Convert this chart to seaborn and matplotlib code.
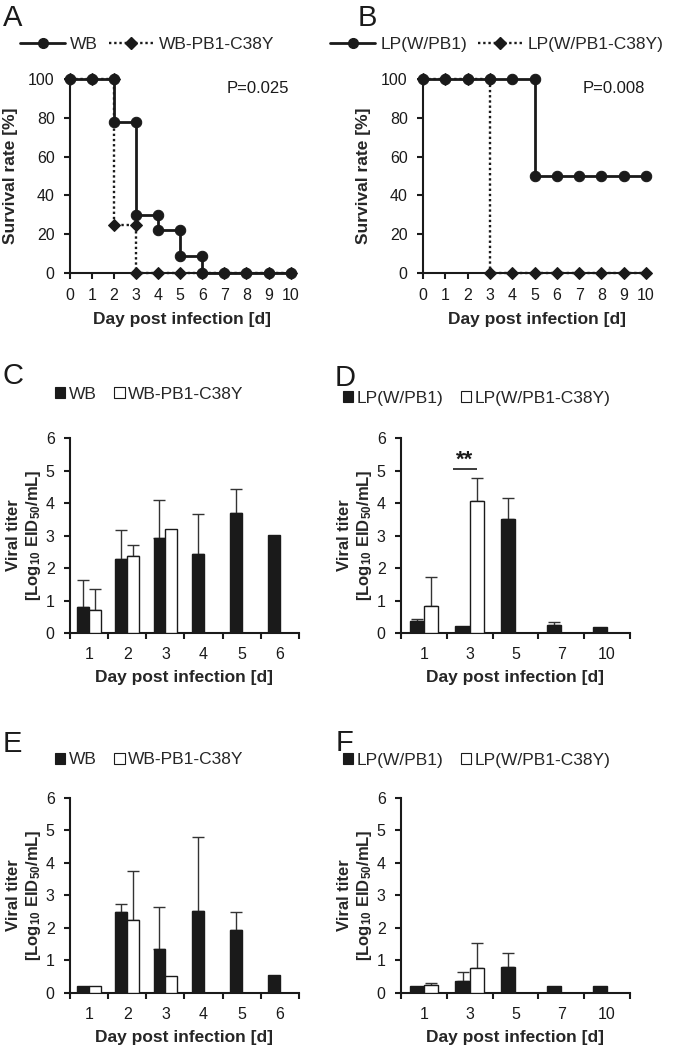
import numpy as np
import pandas as pd
import matplotlib
matplotlib.use('Agg')
import matplotlib.pyplot as plt
import seaborn as sns
from matplotlib.lines import Line2D
from matplotlib.patches import Patch

# ---------------- data ----------------
surv_days = list(range(11))
a_wb = [100, 100, 78, 30, 22, 9, 0, 0, 0, 0, 0]
a_mut = [100, 100, 25, 0, 0, 0, 0, 0, 0, 0, 0]
b_wb = [100, 100, 100, 100, 100, 50, 50, 50, 50, 50, 50]
b_mut = [100, 100, 100, 0, 0, 0, 0, 0, 0, 0, 0]

wb_days = ['1', '2', '3', '4', '5', '6']
lp_days = ['1', '3', '5', '7', '10']

c_wb = [0.79, 2.28, 2.93, 2.44, 3.70, 3.02]
c_wb_sd = [0.83, 0.88, 1.16, 1.22, 0.73, 0]
c_mut = [0.71, 2.36, 3.20, np.nan, np.nan, np.nan]
c_mut_sd = [0.64, 0.36, 0, 0, 0, 0]

d_wb = [0.37, 0.22, 3.52, 0.26, 0.19]
d_wb_sd = [0.05, 0, 0.63, 0.07, 0]
d_mut = [0.83, 4.05, np.nan, np.nan, np.nan]
d_mut_sd = [0.88, 0.73, 0, 0, 0]

e_wb = [0.2, 2.48, 1.34, 2.52, 1.93, 0.55]
e_wb_sd = [0, 0.27, 1.32, 2.29, 0.55, 0]
e_mut = [0.2, 2.24, 0.53, np.nan, np.nan, np.nan]
e_mut_sd = [0, 1.52, 0, 0, 0, 0]

f_wb = [0.2, 0.38, 0.8, 0.2, 0.2]
f_wb_sd = [0, 0.27, 0.43, 0, 0]
f_mut = [0.25, 0.76, np.nan, np.nan, np.nan]
f_mut_sd = [0.05, 0.77, 0, 0, 0]

# ---------------- style ----------------
sns.set_style('ticks')
plt.rcParams['font.family'] = ['Liberation Sans', 'DejaVu Sans']
plt.rcParams['mathtext.fontset'] = 'custom'
plt.rcParams['mathtext.rm'] = 'Liberation Sans:bold'
plt.rcParams['mathtext.it'] = 'Liberation Sans:bold'
plt.rcParams['mathtext.default'] = 'rm'

INK = '#1a1a1a'
fig = plt.figure(figsize=(6.78, 10.55), dpi=100)


def step_points(days, vals):
    xs, ys = [], []
    for i, (d, v) in enumerate(zip(days, vals)):
        if i > 0 and v != vals[i - 1]:
            xs.append(d)
            ys.append(vals[i - 1])
        xs.append(d)
        ys.append(v)
    return xs, ys


def style_axes(ax):
    for s in ['top', 'right']:
        ax.spines[s].set_visible(False)
    for s in ['left', 'bottom']:
        ax.spines[s].set_linewidth(1.5)
        ax.spines[s].set_color(INK)
    ax.tick_params(axis='both', which='major', direction='out', length=4,
                   width=1.5, color=INK, labelsize=11.5, labelcolor=INK)


def survival_panel(rect, wb, mut, ptext, names):
    ax = fig.add_axes(rect)
    mx, my = step_points(surv_days, mut)
    wx, wy = step_points(surv_days, wb)
    sns.lineplot(x=mx, y=my, sort=False, estimator=None, ax=ax, color=INK,
                 linestyle=(0, (1, 1.2)), linewidth=1.7, marker='D', markersize=6.5,
                 markeredgecolor=INK, clip_on=False, zorder=3)
    sns.lineplot(x=wx, y=wy, sort=False, estimator=None, ax=ax, color=INK,
                 linewidth=2.0, marker='o', markersize=7.5,
                 markeredgecolor=INK, clip_on=False, zorder=4)
    ax.set_xlim(0, 10.2)
    ax.set_ylim(0, 100)
    ax.set_xticks(surv_days)
    ax.set_yticks([0, 20, 40, 60, 80, 100])
    style_axes(ax)
    ax.tick_params(axis='x', pad=7)
    ax.tick_params(axis='y', pad=7)
    ax.set_xlabel('Day post infection [d]', fontsize=12.5, fontweight='bold', labelpad=6)
    ax.set_ylabel('Survival rate [%]', fontsize=12.5, fontweight='bold', labelpad=7)
    ax.text(9.95, 95, ptext, ha='right', va='center', fontsize=12, color=INK)
    handles = [Line2D([], [], color=INK, lw=2.0, marker='o', markersize=7),
               Line2D([], [], color=INK, lw=1.7, linestyle=(0, (1, 1.2)),
                      marker='D', markersize=6)]
    return ax, handles


def bar_panel(rect, days, wb, wb_sd, mut, mut_sd, names):
    ax = fig.add_axes(rect)
    df = pd.DataFrame({
        'day': days + days,
        'strain': [names[0]] * len(days) + [names[1]] * len(days),
        'titer': wb + mut,
        'sd': wb_sd + mut_sd,
    })
    sns.barplot(data=df, x='day', y='titer', hue='strain', order=days,
                hue_order=names, palette={names[0]: INK, names[1]: 'white'},
                edgecolor=INK, linewidth=1.0, width=0.62, errorbar=None,
                legend=False, ax=ax, zorder=3)
    for cont, name in zip(ax.containers, names):
        sub = df[(df.strain == name) & df.titer.notna()]
        for patch, sd in zip(cont, sub.sd):
            if sd > 0:
                xc = patch.get_x() + patch.get_width() / 2
                h = patch.get_height()
                ax.errorbar([xc], [h], yerr=[[0], [sd]], fmt='none',
                            ecolor='#333333', elinewidth=1.0, capsize=4.5,
                            capthick=1.0, zorder=2)
    n = len(days)
    ax.set_xlim(-0.5, n - 0.5)
    ax.set_ylim(0, 6)
    ax.set_yticks(range(7))
    style_axes(ax)
    ax.set_xticks(np.arange(-0.5, n, 1.0))
    ax.set_xticklabels([])
    ax.set_xticks(np.arange(n), days, minor=True)
    ax.tick_params(axis='x', which='minor', length=0, pad=10, labelsize=11.5,
                   labelcolor=INK)
    ax.tick_params(axis='y', pad=7)
    ax.set_xlabel('Day post infection [d]', fontsize=12.5, fontweight='bold', labelpad=6)
    ax.set_ylabel('Viral titer\n[Log$_{10}$ EID$_{50}$/mL]', fontsize=12,
                  fontweight='bold', labelpad=2, linespacing=1.2)
    handles = [Patch(facecolor=INK, edgecolor=INK, linewidth=0.8),
               Patch(facecolor='white', edgecolor=INK, linewidth=0.8)]
    return ax, handles


def line_legend(handles, labels, x, y):
    fig.legend(handles, labels, loc='center left', bbox_to_anchor=(x / 678, 1 - y / 1055),
               ncol=2, frameon=False, fontsize=12.5, handlelength=2.6,
               handletextpad=0.3, columnspacing=0.6, borderpad=0, borderaxespad=0)


def bar_legend(handles, labels, x, y):
    fig.legend(handles, labels, loc='center left', bbox_to_anchor=(x / 678, 1 - y / 1055),
               ncol=2, frameon=False, fontsize=12.5, handlelength=0.6,
               handleheight=0.6, handletextpad=0.2, columnspacing=1.0,
               borderpad=0, borderaxespad=0)


wb_names = ['WB', 'WB-PB1-C38Y']
lp_names = ['LP(W/PB1)', 'LP(W/PB1-C38Y)']

# survival
axA, hA = survival_panel([0.1032, 0.7412, 0.3319, 0.1839], a_wb, a_mut, 'P=0.025', wb_names)
line_legend(hA, wb_names, 20, 44)
axB, hB = survival_panel([0.6239, 0.7412, 0.3356, 0.1839], b_wb, b_mut, 'P=0.008', lp_names)
line_legend(hB, lp_names, 330, 44)

# titers
axC, hC = bar_panel([0.1032, 0.400, 0.3378, 0.1848], wb_days, c_wb, c_wb_sd, c_mut, c_mut_sd, wb_names)
bar_legend(hC, wb_names, 55, 394)
axD, hD = bar_panel([0.5914, 0.400, 0.3378, 0.1848], lp_days, d_wb, d_wb_sd, d_mut, d_mut_sd, lp_names)
bar_legend(hD, lp_names, 343, 398)
axE, hE = bar_panel([0.1032, 0.0588, 0.3378, 0.1848], wb_days, e_wb, e_wb_sd, e_mut, e_mut_sd, wb_names)
bar_legend(hE, wb_names, 55, 760)
axF, hF = bar_panel([0.5914, 0.0588, 0.3378, 0.1848], lp_days, f_wb, f_wb_sd, f_mut, f_mut_sd, lp_names)
bar_legend(hF, lp_names, 343, 760)

# significance mark on day 3 in D
wb_bar = axD.containers[0][1]
mut_bar = axD.containers[1][1]
x0 = wb_bar.get_x() - 0.05
x1 = mut_bar.get_x() + mut_bar.get_width() / 2
axD.plot([x0, x1], [5.05, 5.05], color=INK, lw=1.2, solid_capstyle='butt')
axD.text((x0 + x1) / 2, 5.0, '**', ha='center', va='bottom', fontsize=16,
         fontweight='bold', color=INK)

# panel letters
for letter, x, y in [('A', 3, 4), ('B', 358, 4), ('C', 3, 362), ('D', 335, 364),
                     ('E', 3, 730), ('F', 336, 729)]:
    fig.text(x / 678, 1 - y / 1055, letter, fontsize=21, va='top', ha='left', color=INK)

fig.savefig('out.png', dpi=100, facecolor='white')
